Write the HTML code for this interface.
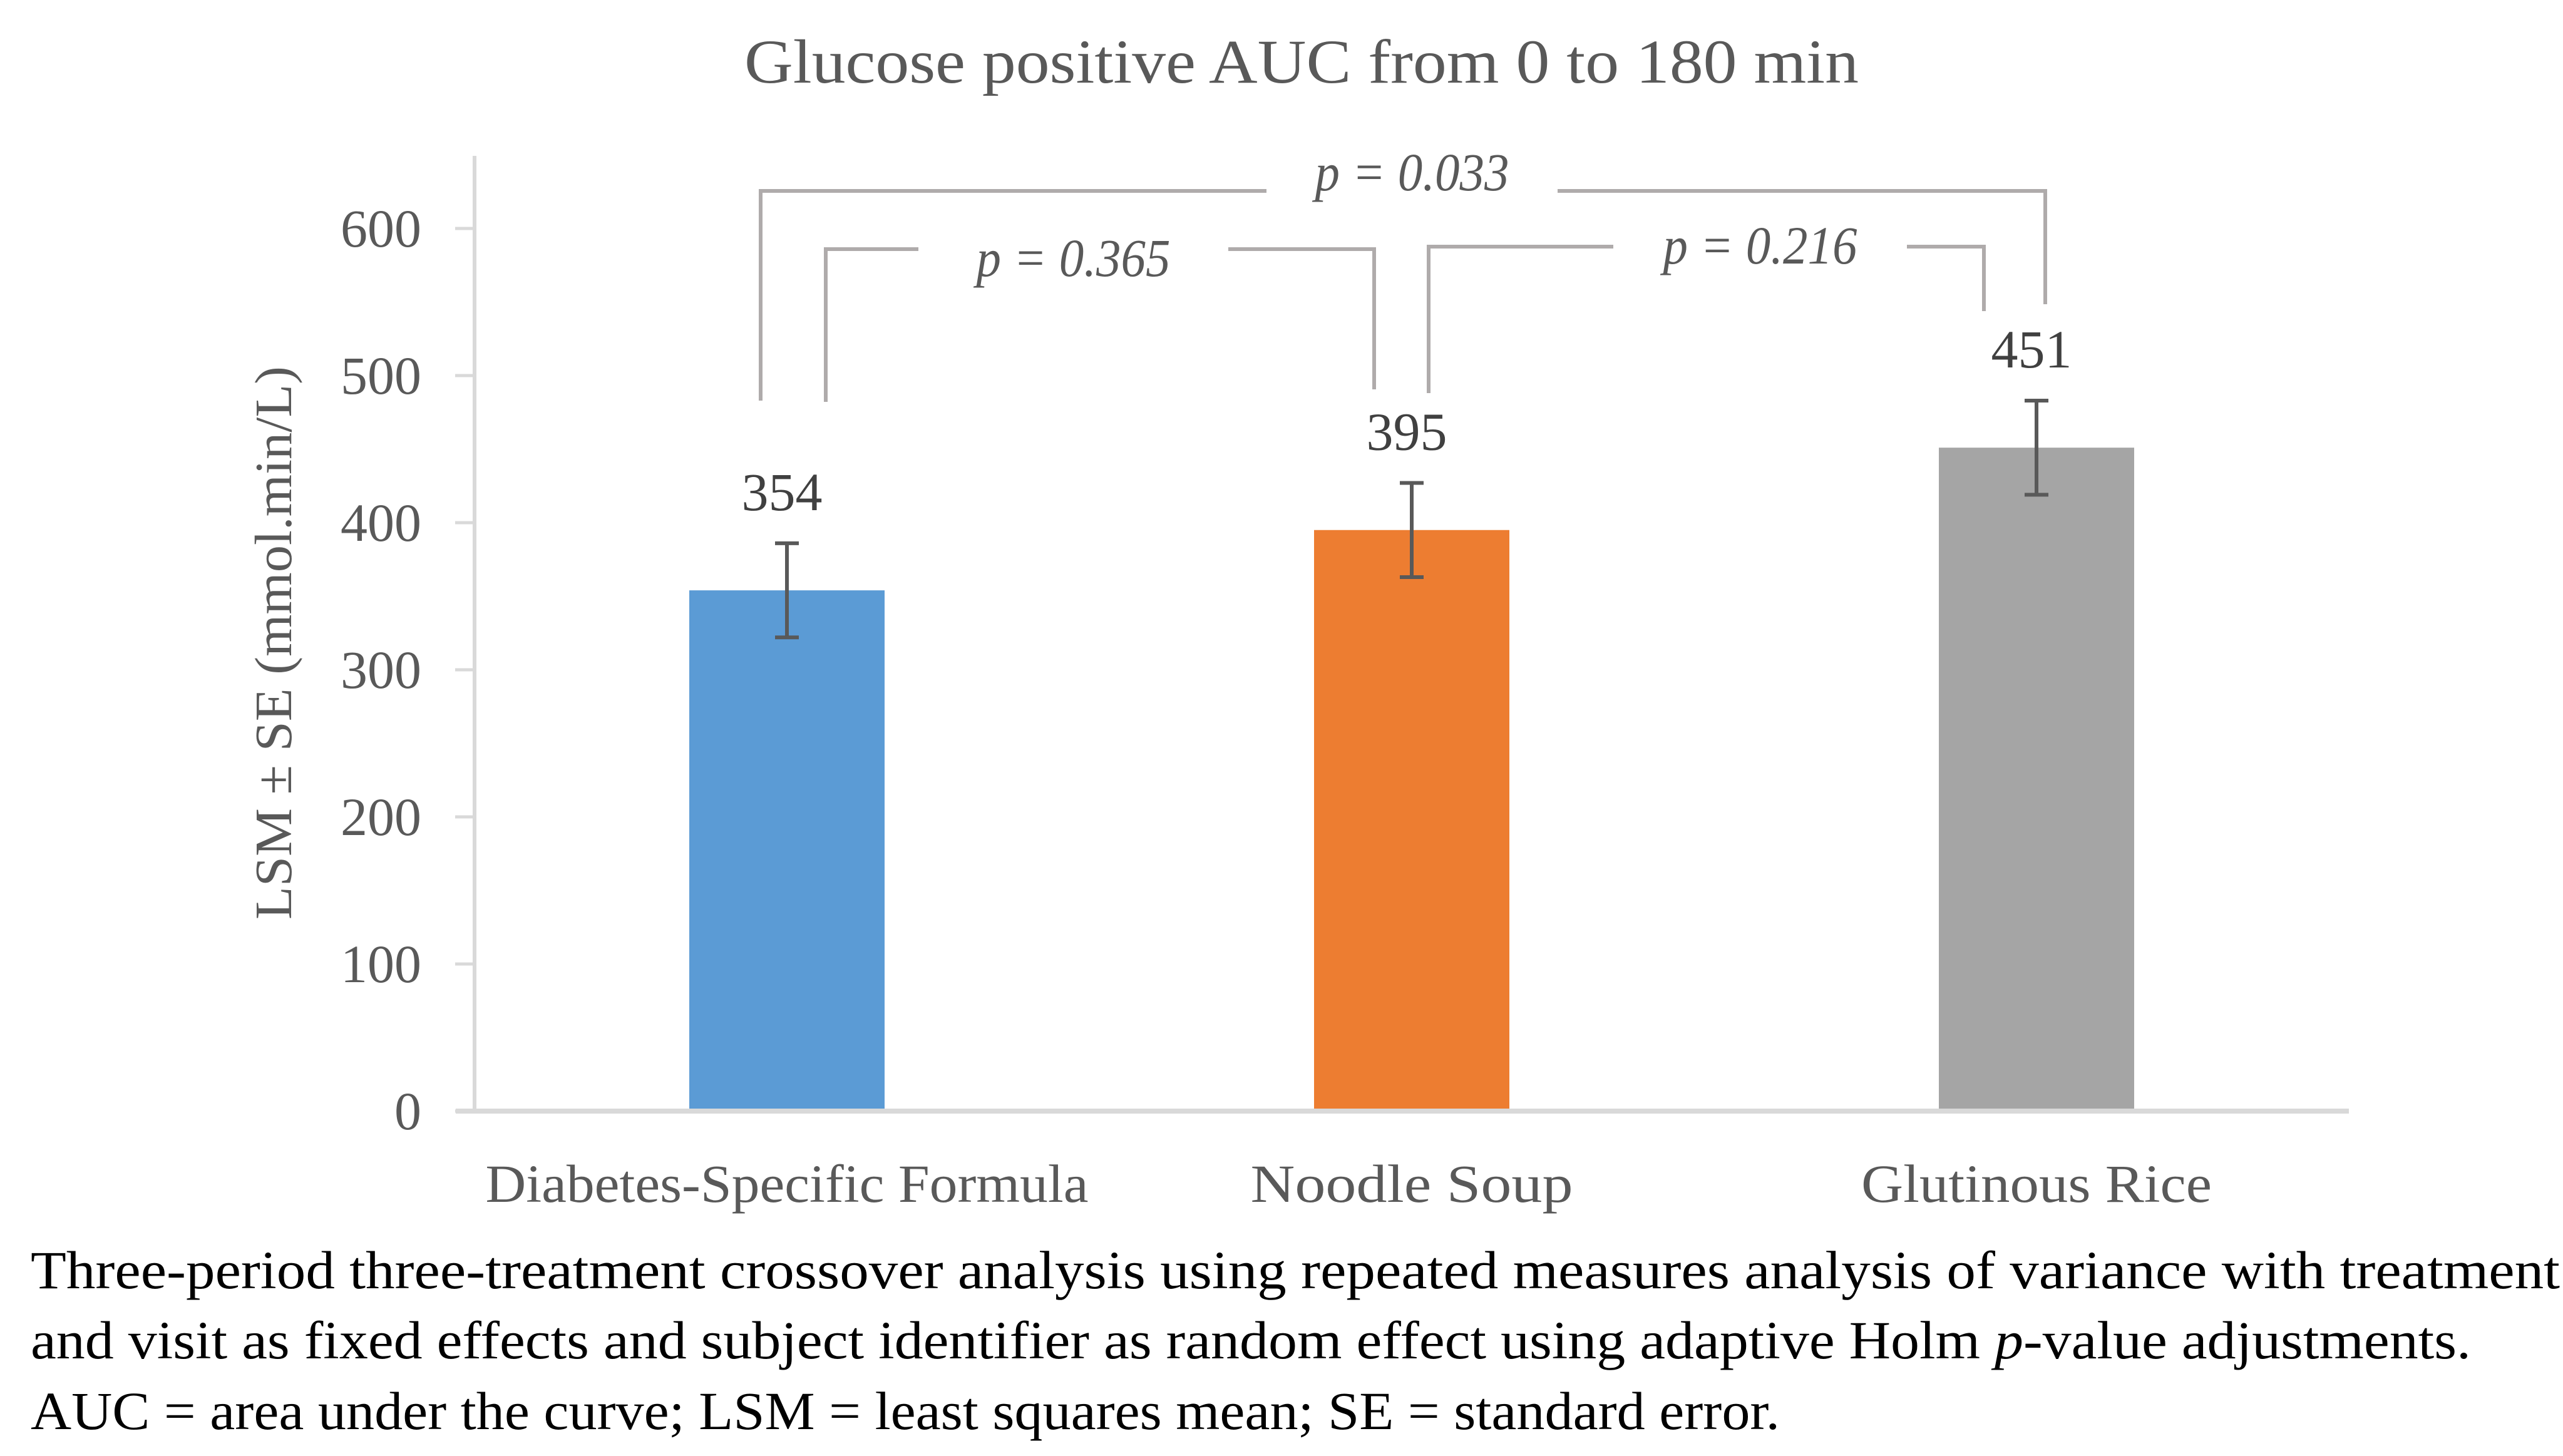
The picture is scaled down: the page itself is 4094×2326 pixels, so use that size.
<!DOCTYPE html>
<html><head><meta charset="utf-8"><title>Glucose positive AUC</title>
<style>
html,body{margin:0;padding:0;background:#fff;}
svg{display:block;}
text{font-family:"Liberation Serif",serif;}
</style></head>
<body>
<svg id="chart" width="4094" height="2326" viewBox="0 0 4094 2326" xmlns="http://www.w3.org/2000/svg">
<rect width="4094" height="2326" fill="#fff"/>
<text x="2079" y="132" text-anchor="middle" font-size="100" fill="#595959" textLength="1780" lengthAdjust="spacingAndGlyphs">Glucose positive AUC from 0 to 180 min</text>
<text transform="translate(465,1027) rotate(-90)" text-anchor="middle" font-size="84" fill="#595959" textLength="884" lengthAdjust="spacingAndGlyphs">LSM ± SE (mmol.min/L)</text>
<g id="axes"></g>
<g id="bars"></g>
<g id="brackets"></g>
<g font-size="86" fill="#000">
<text x="49" y="2058" textLength="4040" lengthAdjust="spacingAndGlyphs">Three-period three-treatment crossover analysis using repeated measures analysis of variance with treatment</text>
<text x="49" y="2170" textLength="3898" lengthAdjust="spacingAndGlyphs">and visit as fixed effects and subject identifier as random effect using adaptive Holm <tspan font-style="italic">p</tspan>-value adjustments.</text>
<text x="49" y="2283" textLength="2794" lengthAdjust="spacingAndGlyphs">AUC = area under the curve; LSM = least squares mean; SE = standard error.</text>
</g>
</svg>
<script>
const categories = ["Diabetes-Specific Formula", "Noodle Soup", "Glutinous Rice"];
const values = [354, 395, 451];
const seValues = [32, 32, 32];
const yTicks = [0, 100, 200, 300, 400, 500, 600];
const barColors = ["#5B9BD5", "#ED7D31", "#A5A5A5"];
const comparisons = [[0, 1], [1, 2], [0, 2]];
const pLabels = ["p = 0.365", "p = 0.216", "p = 0.033"];

const NS = "http://www.w3.org/2000/svg";
const X0 = 758, X1 = 3752, Y0 = 1775, PX_PER_UNIT = 2.35;
const band = (X1 - X0) / categories.length;
function xCenter(i){ return X0 + band * (i + 0.5); }
function yScale(v){ return Y0 - v * PX_PER_UNIT; }
function mk(tag, attrs, parent){ const e = document.createElementNS(NS, tag); for (const k in attrs) e.setAttribute(k, attrs[k]); parent.appendChild(e); return e; }

const axes = document.getElementById("axes");
const yAxis = mk("line", {x1: X0, y1: 249, x2: X0, y2: Y0, stroke: "#D9D9D9", "stroke-width": 6}, axes);


const xAxis = mk("line", {x1: 728, y1: Y0, x2: X1, y2: Y0, stroke: "#D9D9D9", "stroke-width": 8}, axes);


yTicks.forEach(t => {
  const y = yScale(t);
  const tk = mk("line", {x1: 727, y1: y, x2: X0, y2: y, stroke: "#D9D9D9", "stroke-width": 5}, axes);
  
  
  const lb = mk("text", {x: 673, y: y + 29, "text-anchor": "end", "font-size": 86, fill: "#595959"}, axes);
  lb.textContent = t;
  
  
});
const catWidths = [963, 515, 560];
categories.forEach((c, i) => {
  const lb = mk("text", {x: xCenter(i), y: 1920, "text-anchor": "middle", "font-size": 86, fill: "#595959", textLength: catWidths[i], lengthAdjust: "spacingAndGlyphs"}, axes);
  lb.textContent = c;
  
  
});

const bars = document.getElementById("bars");
const BW = 312;
values.forEach((v, i) => {
  const cx = xCenter(i);
  const r = mk("rect", {x: cx - BW / 2, y: yScale(v), width: BW, height: Y0 - 4 - yScale(v), fill: barColors[i]}, bars);
  
  
  const top = yScale(v + seValues[i]), bot = yScale(v - seValues[i]);
  const eg = mk("g", {stroke: "#595959", "stroke-width": 6}, bars);
  
  
  mk("line", {x1: cx, y1: top, x2: cx, y2: bot}, eg);
  mk("line", {x1: cx - 19, y1: top, x2: cx + 19, y2: top}, eg);
  mk("line", {x1: cx - 19, y1: bot, x2: cx + 19, y2: bot}, eg);
  const lb = mk("text", {x: cx - 8, y: top - 53, "text-anchor": "middle", "font-size": 86, fill: "#404040"}, bars);
  lb.textContent = v;
  
  
});

// bracket geometry per comparison (level/offset styling only)
const bracketGeom = [
  {y: 398, dx1: 62, dx2: -60, y1: 642, y2: 622, gap: [1467, 1962], ty: 441},
  {y: 394, dx1: 27, dx2: -84, y1: 628, y2: 497, gap: [2577, 3046], ty: 421},
  {y: 305, dx1: -42, dx2: 14, y1: 640, y2: 486, gap: [2023, 2488], ty: 304}
];
const brackets = document.getElementById("brackets");
comparisons.forEach((cmp, k) => {
  const g = bracketGeom[k];
  const xa = xCenter(cmp[0]) + g.dx1, xb = xCenter(cmp[1]) + g.dx2;
  const grp = mk("g", {fill: "none", stroke: "#AFABAB", "stroke-width": 6}, brackets);
  
  
  mk("polyline", {points: `${xa},${g.y1} ${xa},${g.y} ${g.gap[0]},${g.y}`}, grp);
  mk("polyline", {points: `${g.gap[1]},${g.y} ${xb},${g.y} ${xb},${g.y2}`}, grp);
  const t = mk("text", {x: (g.gap[0] + g.gap[1]) / 2, y: g.ty, "text-anchor": "middle", "font-size": 86, "font-style": "italic", fill: "#595959", textLength: 310, lengthAdjust: "spacingAndGlyphs"}, brackets);
  t.textContent = pLabels[k];
  
  
});
</script>
</body></html>
